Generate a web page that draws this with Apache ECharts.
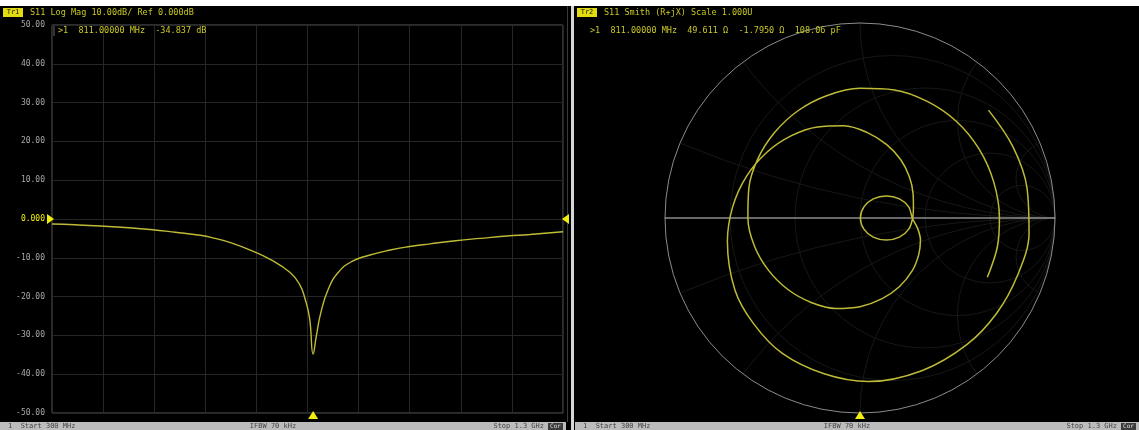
<!DOCTYPE html>
<html><head><meta charset="utf-8">
<script src="https://cdn.jsdelivr.net/npm/echarts@6/dist/echarts.min.js"></script>
<style>html,body{margin:0;padding:0;background:#fff;}#c{width:1139px;height:430px;}</style>
</head><body><div id="c"></div>
<script>
// ---- data ----
const freqMHz = [300,345,394,443,492,541,590,619,649,688,727,766,785,795,804,811,817,826,841,860,886,919,962,1000,1040,1090,1138,1190,1235,1300];
const s11LogMagDB = [-1.3,-1.5,-1.8,-2.2,-2.7,-3.4,-4.2,-5.0,-6.1,-8.0,-10.4,-13.8,-17.0,-20.5,-25.5,-34.8,-30.4,-24.2,-18.0,-13.8,-11.0,-9.4,-8.0,-7.1,-6.4,-5.6,-5.0,-4.4,-4.0,-3.3];
const yTickValues = [50,40,30,20,10,0,-10,-20,-30,-40,-50];
const yTickLabels = ['50.00','40.00','30.00','20.00','10.00','0.000','-10.00','-20.00','-30.00','-40.00','-50.00'];
const smithRe = [0.659,0.784,0.857,0.867,0.808,0.700,0.546,0.317,0.044,-0.184,-0.400,-0.544,-0.641,-0.680,-0.653,-0.583,-0.479,-0.354,-0.218,-0.083,0.038,0.137,0.209,0.253,0.272,0.274,0.270,
  0.250,0.202,0.135,0.068,0.020,0.002,0.020,0.068,0.135,0.202,0.250,0.268,
  0.295,0.310,0.301,0.269,0.203,0.111,0.000,-0.124,-0.250,-0.368,-0.468,-0.541,-0.575,-0.570,-0.524,-0.438,-0.318,-0.168,0.000,0.176,0.345,0.495,0.611,0.686,0.715,0.704,0.653];
const smithIm = [0.553,0.366,0.151,-0.076,-0.294,-0.490,-0.651,-0.783,-0.839,-0.799,-0.693,-0.544,-0.370,-0.120,0.057,0.212,0.336,0.421,0.467,0.473,0.438,0.376,0.299,0.212,0.127,0.058,0.000,
  -0.057,-0.098,-0.113,-0.098,-0.057,0.000,0.057,0.098,0.113,0.098,0.057,0.000,
  -0.052,-0.113,-0.188,-0.269,-0.351,-0.415,-0.455,-0.464,-0.433,-0.368,-0.270,-0.145,0.000,0.153,0.303,0.438,0.550,0.628,0.665,0.657,0.598,0.495,0.353,0.184,0.000,-0.150,-0.304];
const startMHz = 300, stopMHz = 1300, divMHz = 100;
const markerFreqMHz = 811;
const resistanceCircles = [0.2, 0.5, 1, 2, 5];
const reactanceArcs = [0.2, 0.5, 1, 2, 5];
const leftTitle = 'S11 Log Mag 10.00dB/ Ref 0.000dB';
const leftMarker = '>1  811.00000 MHz  -34.837 dB';
const rightTitle = 'S11 Smith (R+jX) Scale 1.000U';
const rightMarker = '>1  811.00000 MHz  49.611 Ω  -1.7950 Ω  108.06 pF';
const statusLeft = '1  Start 300 MHz', statusMid = 'IFBW 70 kHz', statusRight = 'Stop 1.3 GHz';

// ---- styles ----
const MONO = '"DejaVu Sans Mono", "Liberation Mono", monospace';
const TRACE = '#bfbb36';
const YEL = '#c9c824';
const BRIGHT = '#f2ee10';
const SMITH_GRID = '#171717';

const chart = echarts.init(document.getElementById('c'), null, {renderer: 'canvas'});
const logMagData = freqMHz.map((f, i) => [f, s11LogMagDB[i]]);
const smithData = smithRe.map((r, i) => [r, smithIm[i]]);

chart.setOption({
  backgroundColor: '#000',
  animation: false,
  grid: [
    {left: 52, top: 25, width: 511, height: 388, show: true, borderColor: '#5a5a5a', borderWidth: 1, backgroundColor: 'transparent'},
    {left: 665, top: 23, width: 390, height: 390, show: false}
  ],
  xAxis: [
    {gridIndex: 0, type: 'value', min: startMHz, max: stopMHz, interval: divMHz,
     axisLabel: {show: false}, axisTick: {show: false}, axisLine: {show: false},
     splitLine: {show: true, lineStyle: {color: '#262626', width: 1}}},
    {gridIndex: 1, type: 'value', min: -1, max: 1, show: false}
  ],
  yAxis: [
    {gridIndex: 0, type: 'value', min: -50, max: 50, interval: 10,
     axisTick: {show: false}, axisLine: {show: false},
     splitLine: {show: true, lineStyle: {color: '#262626', width: 1}},
     axisLabel: {color: '#a8a8a8', fontFamily: MONO, fontSize: 8, margin: 7,
       formatter: v => { const i = yTickValues.indexOf(Math.round(v)); const s = i >= 0 ? yTickLabels[i] : ''; return Math.round(v) === 0 ? '{ref|' + s + '}' : s; },
       rich: {ref: {color: BRIGHT, fontFamily: MONO, fontSize: 8}}}},
    {gridIndex: 1, type: 'value', min: -1, max: 1, show: false}
  ],
  series: [
    {type: 'line', xAxisIndex: 0, yAxisIndex: 0, data: logMagData, showSymbol: false, smooth: 0.5,
     lineStyle: {color: TRACE, width: 1.4}, z: 5, silent: true},
    {type: 'line', xAxisIndex: 1, yAxisIndex: 1, data: smithData, showSymbol: false, smooth: 0.35,
     lineStyle: {color: TRACE, width: 1.5}, z: 5, silent: true}
  ]
});

function px(g, p) { return chart.convertToPixel({gridIndex: g}, p); }
const graphics = [];
graphics.push({type: 'rect', shape: {x: 0, y: 0, width: 1139, height: 6}, style: {fill: '#fff'}, z: 1, silent: true});
graphics.push({type: 'rect', shape: {x: 571, y: 6, width: 3, height: 424}, style: {fill: '#d6d6d6'}, z: 1, silent: true});
graphics.push({type: 'rect', shape: {x: 567, y: 6, width: 1, height: 416}, style: {fill: '#3a3a3a'}, z: 1, silent: true});

// Smith grid
const c0 = px(1, [0, 0]);
const R = px(1, [1, 0])[0] - c0[0];
resistanceCircles.forEach(r => {
  const cc = px(1, [r / (1 + r), 0]);
  graphics.push({type: 'circle', shape: {cx: cc[0], cy: cc[1], r: R / (1 + r)}, style: {fill: 'none', stroke: SMITH_GRID, lineWidth: 1}, z: 1, silent: true});
});
reactanceArcs.forEach(x => {
  [1, -1].forEach(s => {
    const cc = px(1, [1, s / x]);
    const p1 = px(1, [1, 0]);
    const p2 = px(1, [(x * x - 1) / (x * x + 1), s * 2 * x / (x * x + 1)]);
    const a1 = Math.atan2(p1[1] - cc[1], p1[0] - cc[0]);
    const a2 = Math.atan2(p2[1] - cc[1], p2[0] - cc[0]);
    let d = a2 - a1; while (d > Math.PI) d -= 2 * Math.PI; while (d <= -Math.PI) d += 2 * Math.PI;
    const st = d > 0 ? a1 : a2, en = d > 0 ? a1 + d : a2 - d;
    graphics.push({type: 'arc', shape: {cx: cc[0], cy: cc[1], r: R / x, startAngle: st, endAngle: en, clockwise: true}, style: {fill: 'none', stroke: SMITH_GRID, lineWidth: 1}, z: 1, silent: true});
  });
});
graphics.push({type: 'circle', shape: {cx: c0[0], cy: c0[1], r: R}, style: {fill: 'none', stroke: '#8c8c8c', lineWidth: 1}, z: 2, silent: true});
graphics.push({type: 'line', shape: {x1: c0[0] - R, y1: c0[1], x2: c0[0] + R, y2: c0[1]}, style: {stroke: '#d0d0d0', lineWidth: 1}, z: 2, silent: true});

// marker / reference triangles
const refL = px(0, [startMHz, 0]);
const refR = px(0, [stopMHz, 0]);
const mk = px(0, [markerFreqMHz, -50]);
const smBottom = px(1, [0, -1]);
const tri = pts => ({type: 'polygon', shape: {points: pts}, style: {fill: BRIGHT}, z: 6, silent: true});
graphics.push(tri([[refL[0] - 5, refL[1] - 5], [refL[0] + 2, refL[1]], [refL[0] - 5, refL[1] + 5]]));
graphics.push(tri([[refR[0] + 6, refR[1] - 5], [refR[0] - 1, refR[1]], [refR[0] + 6, refR[1] + 5]]));
graphics.push(tri([[mk[0] - 5, mk[1] + 6], [mk[0], mk[1] - 2], [mk[0] + 5, mk[1] + 6]]));
graphics.push(tri([[smBottom[0] - 5, smBottom[1] + 6], [smBottom[0], smBottom[1] - 2], [smBottom[0] + 5, smBottom[1] + 6]]));

// titles
const txt = (t, x, y, fill, align, size) => ({type: 'text', style: {text: t, x: x, y: y, fill: fill, font: (size || 8.5) + 'px ' + MONO, align: align || 'left', verticalAlign: 'middle'}, z: 7, silent: true});
graphics.push({type: 'rect', shape: {x: 3, y: 8, width: 20, height: 9}, style: {fill: '#e2dc10'}, z: 6, silent: true});
graphics.push(txt('Tr1', 13, 12.5, '#202000', 'center', 7));
graphics.push(txt(leftTitle, 30, 12.5, YEL));
graphics.push({type: 'line', shape: {x1: 54, y1: 26, x2: 54, y2: 36}, style: {stroke: '#666', lineWidth: 1}, z: 6, silent: true});
graphics.push(txt(leftMarker, 58, 31, YEL));
graphics.push({type: 'rect', shape: {x: 577, y: 8, width: 20, height: 9}, style: {fill: '#e2dc10'}, z: 6, silent: true});
graphics.push(txt('Tr2', 587, 12.5, '#202000', 'center', 7));
graphics.push(txt(rightTitle, 604, 12.5, YEL));
graphics.push(txt(rightMarker, 590, 31, YEL));

// status bars
[[0, 566], [575, 1139]].forEach(([x0, x1]) => {
  graphics.push({type: 'rect', shape: {x: x0, y: 422, width: x1 - x0, height: 8}, style: {fill: '#bcbcbc'}, z: 6, silent: true});
  graphics.push({type: 'rect', shape: {x: x1 - 18, y: 423, width: 15, height: 7}, style: {fill: '#3c3c3c'}, z: 7, silent: true});
  graphics.push(txt('Cor', x1 - 10.5, 426.5, '#dddddd', 'center', 6));
  graphics.push(txt(statusLeft, x0 + 8, 426.5, '#444', 'left', 7));
  graphics.push(txt(statusMid, (x0 + x1) / 2 - 10, 426.5, '#444', 'center', 7));
  graphics.push(txt(statusRight, x1 - 22, 426.5, '#444', 'right', 7));
});

chart.setOption({graphic: {elements: graphics}});
</script>
</body></html>
